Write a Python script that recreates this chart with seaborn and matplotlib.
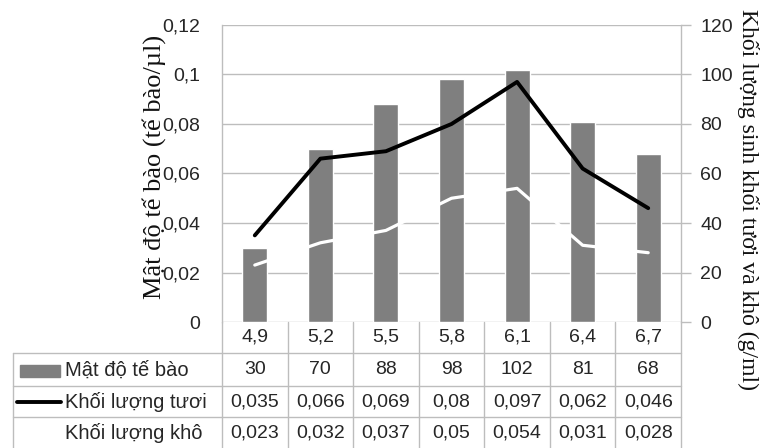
import matplotlib
matplotlib.use("Agg")
import matplotlib.pyplot as plt
from matplotlib.patches import Rectangle
from matplotlib.lines import Line2D
from matplotlib.transforms import blended_transform_factory
import pandas as pd
import seaborn as sns

# pH levels and measured series
ph_labels = ["4,9", "5,2", "5,5", "5,8", "6,1", "6,4", "6,7"]
cell_density = [30, 70, 88, 98, 102, 81, 68]
fresh_mass = [0.035, 0.066, 0.069, 0.08, 0.097, 0.062, 0.046]
dry_mass = [0.023, 0.032, 0.037, 0.05, 0.054, 0.031, 0.028]

series_names = ["Mật độ tế bào", "Khối lượng tươi", "Khối lượng khô"]
left_ticks = [0, 0.02, 0.04, 0.06, 0.08, 0.10, 0.12]
left_tick_labels = ["0", "0,02", "0,04", "0,06", "0,08", "0,1", "0,12"]
right_ticks = [0, 20, 40, 60, 80, 100, 120]
left_title = "Mật độ tế bào (tế bào/µl)"
right_title = "Khối lượng sinh khối tươi và khô (g/ml)"

df = pd.DataFrame({"pH": ph_labels, "density": cell_density,
                   "fresh": fresh_mass, "dry": dry_mass})

sns.set_theme(style="white")
plt.rcParams["font.family"] = ["Liberation Sans", "DejaVu Sans"]

BAR_C = "#7F7F7F"
GRID_C = "#BDBDBD"
TEXT_C = "#262626"
W, H = 763, 448


def fx(x):
    return x / W


def fy(y):
    return 1 - y / H


fig = plt.figure(figsize=(W / 100, H / 100), dpi=100)
ax_bar = fig.add_axes([fx(222), fy(322), (681 - 222) / W, (322 - 25) / H])

# Bars: cell density on the right-hand scale
sns.barplot(data=df, x="pH", y="density", order=ph_labels, ax=ax_bar,
            color=BAR_C, saturation=1, width=0.38, errorbar=None)

# Lines: fresh and dry mass on the left-hand scale
ax_line = ax_bar.twinx()
sns.pointplot(data=df, x="pH", y="fresh", order=ph_labels, ax=ax_line,
              color="black", marker="", linewidth=2.8, errorbar=None)
sns.pointplot(data=df, x="pH", y="dry", order=ph_labels, ax=ax_line,
              color="white", marker="", linewidth=2.3, errorbar=None)

# Right-hand scale (bars)
ax_bar.set_ylim(0, 120)
ax_bar.set_xlim(-0.5, len(ph_labels) - 0.5)
ax_bar.yaxis.tick_right()
ax_bar.set_yticks(right_ticks, [str(t) for t in right_ticks])
ax_bar.set_axisbelow(True)
ax_bar.grid(axis="y", color=GRID_C, linewidth=1)
ax_bar.grid(axis="x", visible=False)
ax_bar.tick_params(axis="y", left=False, labelleft=False, right=True,
                   labelright=True, length=7, width=1, color=GRID_C, pad=7,
                   labelsize=14, labelcolor=TEXT_C)
ax_bar.tick_params(axis="x", bottom=False, labelbottom=False)
ax_bar.set_xlabel("")
ax_bar.set_ylabel("")
for side in ["top", "bottom"]:
    ax_bar.spines[side].set_visible(False)
for side in ["left", "right"]:
    ax_bar.spines[side].set_color(GRID_C)
    ax_bar.spines[side].set_linewidth(1)

# Left-hand scale (lines)
ax_line.set_ylim(0, 0.12)
ax_line.set_xlim(-0.5, len(ph_labels) - 0.5)
ax_line.yaxis.tick_left()
ax_line.set_yticks(left_ticks, left_tick_labels)
ax_line.tick_params(axis="y", left=True, labelleft=True, right=False,
                    labelright=False, length=0, pad=15.5,
                    labelsize=14, labelcolor=TEXT_C)
ax_line.tick_params(axis="x", bottom=False, labelbottom=False)
ax_line.grid(False)
ax_line.set_xlabel("")
ax_line.set_ylabel("")
for sp in ax_line.spines.values():
    sp.set_visible(False)

# Axis titles
fig.text(fx(154), fy(167), left_title, rotation=90, ha="center", va="center",
         family=["Liberation Serif", "DejaVu Serif"], fontsize=19, color="#111111")
fig.text(fx(748), fy(200), right_title, rotation=-90, ha="center", va="center",
         family=["Liberation Serif", "DejaVu Serif"], fontsize=17, color="#111111")

# Data table below the plot
mix = blended_transform_factory(ax_bar.transData, fig.transFigure)
row_lines = [322, 353, 386, 417]
row_text_y = [337, 370, 402, 433]


def hline(x0, x1, y):
    fig.add_artist(Line2D([fx(x0), fx(x1)], [fy(y), fy(y)], color=GRID_C,
                          lw=1, transform=fig.transFigure))


for y in row_lines[1:]:
    hline(13, 681, y)
fig.add_artist(Line2D([fx(13), fx(13)], [fy(353), fy(448)], color=GRID_C,
                      lw=1, transform=fig.transFigure))
for i in range(len(ph_labels) + 1):
    xb = i - 0.5
    fig.add_artist(Line2D([xb, xb], [fy(322), fy(448)], color=GRID_C, lw=1,
                          transform=mix))

rows = [ph_labels,
        [str(v) for v in cell_density],
        [str(v).replace(".", ",") for v in fresh_mass],
        [str(v).replace(".", ",") for v in dry_mass]]
for r, values in enumerate(rows):
    for i, txt in enumerate(values):
        fig.text(i, fy(row_text_y[r]), txt, transform=mix, ha="center",
                 va="center", fontsize=14, color=TEXT_C)

for r, name in enumerate(series_names):
    fig.text(fx(65), fy(row_text_y[r + 1]), name, ha="left", va="center",
             fontsize=14.5, color=TEXT_C)

fig.add_artist(Rectangle((fx(20), fy(377)), fx(60) - fx(20), fy(365) - fy(377),
                         color=BAR_C, transform=fig.transFigure))
fig.add_artist(Line2D([fx(17), fx(61)], [fy(402), fy(402)], color="black",
                      lw=2.8, transform=fig.transFigure))
fig.add_artist(Line2D([fx(17), fx(61)], [fy(433), fy(433)], color="white",
                      lw=2.3, transform=fig.transFigure))

fig.savefig("out.png", dpi=100)
